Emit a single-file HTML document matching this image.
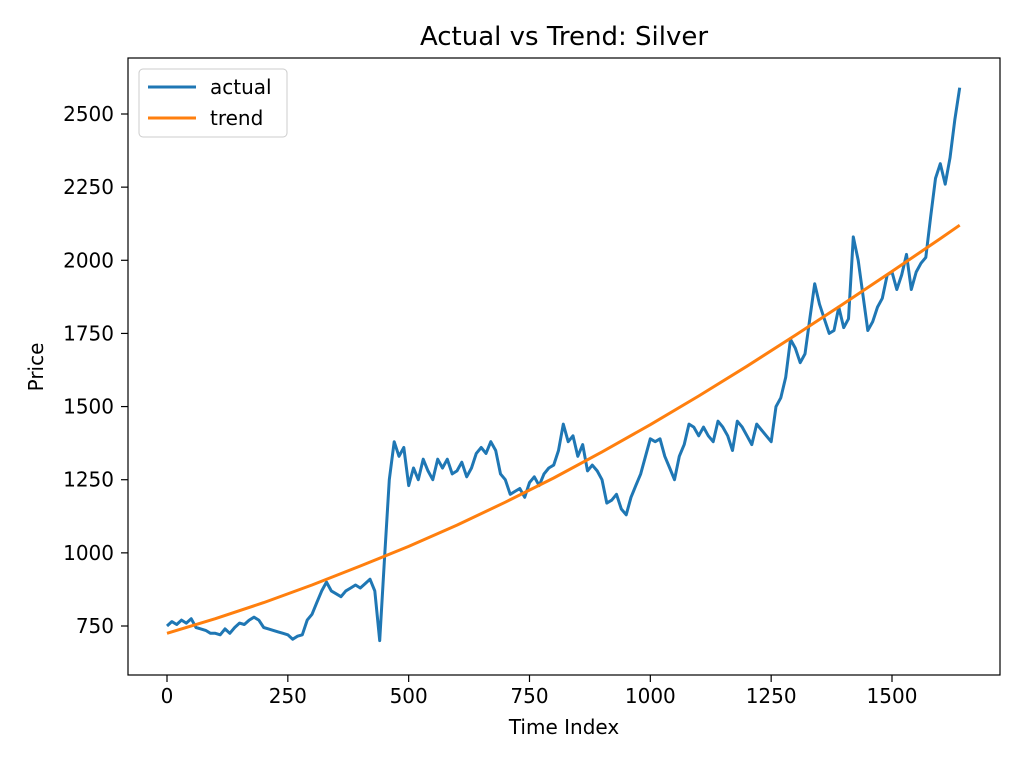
<!DOCTYPE html>
<html><head><meta charset="utf-8"><style>
body{margin:0;background:#fff;}
svg text{font-family:"DejaVu Sans","Liberation Sans",sans-serif;fill:#000;}
</style></head><body>
<svg id="chart" width="1024" height="768" xmlns="http://www.w3.org/2000/svg">
<rect width="1024" height="768" fill="#fff"/>
<text x="564" y="45" font-size="26" text-anchor="middle">Actual vs Trend: Silver</text>
<g id="xticks"></g>
<g id="yticks"></g>
<g id="plot"></g>
<rect x="128" y="58" width="872" height="617" fill="none" stroke="#000" stroke-width="1.2"/>
<text x="564" y="734" font-size="20" text-anchor="middle">Time Index</text>
<text x="0" y="0" font-size="20" text-anchor="middle" transform="translate(43,367) rotate(-90)">Price</text>
<g>
<rect x="139" y="69" width="148" height="68" rx="4" fill="#fff" fill-opacity="0.8" stroke="#ccc"/>
<g><line x1="148" y1="87" x2="196" y2="87" stroke="#1f77b4" stroke-width="3"/><text x="210" y="94" font-size="20">actual</text></g>
<g><line x1="148" y1="118" x2="196" y2="118" stroke="#ff7f0e" stroke-width="3"/><text x="210" y="125" font-size="20">trend</text></g>
</g>
</svg>
<script>
const xTicks=[0,250,500,750,1000,1250,1500];
const yTicks=[750,1000,1250,1500,1750,2000,2250,2500];
const actualIdxStep=10;
const actualValues=[750,765,755,770,760,775,745,740,735,725,
725,720,740,725,745,760,755,770,780,770,
745,740,735,730,725,720,705,715,720,770,
790,830,870,900,870,860,850,870,880,890,
880,895,910,870,700,980,1250,1380,1330,1360,
1230,1290,1250,1320,1280,1250,1320,1290,1320,1270,
1280,1310,1260,1290,1340,1360,1340,1380,1350,1270,
1250,1200,1210,1220,1190,1240,1260,1230,1270,1290,
1300,1350,1440,1380,1400,1330,1370,1280,1300,1280,
1250,1170,1180,1200,1150,1130,1190,1230,1270,1330,
1390,1380,1390,1330,1290,1250,1330,1370,1440,1430,
1400,1430,1400,1380,1450,1430,1400,1350,1450,1430,
1400,1370,1440,1420,1400,1380,1500,1530,1600,1730,
1700,1650,1680,1800,1920,1850,1800,1750,1760,1840,
1770,1800,2080,2000,1880,1760,1790,1840,1870,1950,
1960,1900,1950,2020,1900,1960,1990,2010,2150,2280,
2330,2260,2350,2480,2590];
const trendIdx=[0,100,200,300,400,500,600,700,800,900,1000,1100,1200,1300,1400,1500,1600,1640];
const trendValues=[725,775,830,890,955,1022,1095,1173,1256,1345,1438,1536,1638,1744,1852,1962,2074,2120];

const NS="http://www.w3.org/2000/svg";
const X=v=>167+(v)*(725/1500);
const Y=v=>626-(v-750)*(512/1750);
function mk(tag,attrs,parent){const e=document.createElementNS(NS,tag);for(const k in attrs)e.setAttribute(k,attrs[k]);parent.appendChild(e);return e;}
const xg=document.getElementById('xticks'),yg=document.getElementById('yticks'),pg=document.getElementById('plot');
xTicks.forEach(t=>{
  const l=mk('line',{x1:X(t),x2:X(t),y1:675,y2:682,stroke:'#000','stroke-width':1.2},xg);
  
  
  const tx=mk('text',{x:X(t),y:703,'font-size':20,'text-anchor':'middle'},xg);tx.textContent=t;
  
  
});
yTicks.forEach(t=>{
  const l=mk('line',{x1:121,x2:128,y1:Y(t),y2:Y(t),stroke:'#000','stroke-width':1.2},yg);
  
  
  const tx=mk('text',{x:114,y:Y(t)+7,'font-size':20,'text-anchor':'end'},yg);tx.textContent=t;
  
  
});
const ap=actualValues.map((v,i)=>X(i*actualIdxStep).toFixed(1)+','+Y(v).toFixed(1)).join(' ');
const a=mk('polyline',{points:ap,fill:'none',stroke:'#1f77b4','stroke-width':3,'stroke-linejoin':'round'},pg);


const tp=trendValues.map((v,i)=>X(trendIdx[i]).toFixed(1)+','+Y(v).toFixed(1)).join(' ');
const tl=mk('polyline',{points:tp,fill:'none',stroke:'#ff7f0e','stroke-width':3,'stroke-linejoin':'round'},pg);


</script>
</body></html>
